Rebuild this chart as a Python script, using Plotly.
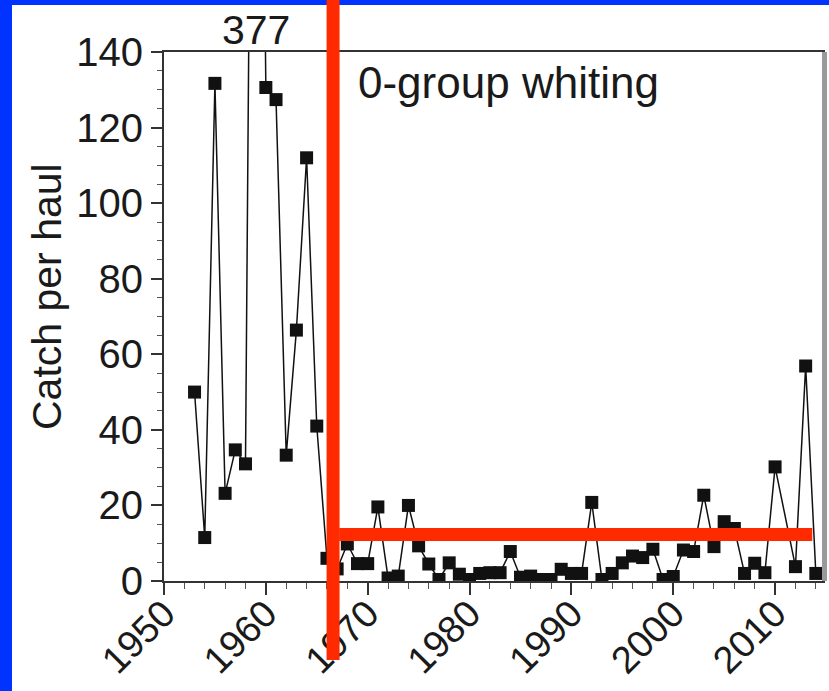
import plotly.graph_objects as go

# Survey years (no value recorded for 2011)
years = [1953, 1954, 1955, 1956, 1957, 1958, 1959, 1960, 1961, 1962,
         1963, 1964, 1965, 1966, 1967, 1968, 1969, 1970, 1971, 1972,
         1973, 1974, 1975, 1976, 1977, 1978, 1979, 1980, 1981, 1982,
         1983, 1984, 1985, 1986, 1987, 1988, 1989, 1990, 1991, 1992,
         1993, 1994, 1995, 1996, 1997, 1998, 1999, 2000, 2001, 2002,
         2003, 2004, 2005, 2006, 2007, 2008, 2009, 2010, 2012, 2013,
         2014]

# 0-group whiting, catch per haul
catch = [50.0, 11.5, 131.7, 23.2, 34.7, 31.0, 377.0, 130.6, 127.4, 33.3,
         66.4, 112.0, 41.0, 6.0, 3.2, 9.8, 4.6, 4.6, 19.6, 0.8,
         1.3, 20.0, 9.3, 4.5, 0.4, 4.8, 1.8, 0.4, 2.0, 2.2,
         2.2, 7.8, 1.0, 1.3, 0.4, 0.4, 3.1, 2.0, 2.0, 20.8,
         0.4, 2.0, 4.8, 6.6, 6.2, 8.4, 0.4, 1.2, 8.2, 7.8,
         22.7, 9.1, 15.7, 13.9, 2.0, 4.7, 2.2, 30.2, 3.8, 56.9,
         2.0]

x_ticks = [1950, 1960, 1970, 1980, 1990, 2000, 2010]
y_ticks = [0, 20, 40, 60, 80, 100, 120, 140]
x_range = [1950, 2014.9]
y_range = [0, 140]

# Regime marks: break year and the later average level
shift_year = 1966.6
post_level = 12.3
post_start = 1967.2
post_end = 2013.65

panel_label = "0-group whiting"
y_title = "Catch per haul"

# Page geometry (pixels)
FIG_W, FIG_H = 829, 691
M_L, M_R, M_T, M_B = 164, 4, 52, 110
PW = FIG_W - M_L - M_R
PH = FIG_H - M_T - M_B


def px_x(p):
    return (p - M_L) / PW


def px_y(p):
    return (M_T + PH - p) / PH


FONT = "Liberation Sans, Arial, Helvetica, sans-serif"
INK = "#1a1a1a"
RED = "#ff2a00"
BLUE = "#0033ff"

fig = go.Figure()
fig.add_trace(go.Scatter(
    x=years, y=catch, mode="lines+markers",
    line=dict(color="#111111", width=1.5),
    marker=dict(symbol="square", size=13, color="#111111"),
    showlegend=False, cliponaxis=True,
))

# Off-scale value written above the frame
peak_i = catch.index(max(catch))
fig.add_annotation(
    x=years[peak_i], y=px_y(30), xref="x", yref="paper",
    text=f"{catch[peak_i]:.0f}", showarrow=False,
    font=dict(family=FONT, size=41, color=INK),
    xanchor="center", yanchor="middle",
)

fig.add_annotation(
    x=px_x(356), y=px_y(82), xref="paper", yref="paper",
    text=panel_label, showarrow=False,
    font=dict(family=FONT, size=44, color=INK),
    xanchor="left", yanchor="middle",
)

fig.add_annotation(
    x=px_x(47), y=px_y(297), xref="paper", yref="paper",
    text=y_title, textangle=-90, showarrow=False,
    font=dict(family=FONT, size=41, color=INK),
    xanchor="center", yanchor="middle",
)

shapes = [
    # blue page border, left and top
    dict(type="rect", xref="paper", yref="paper",
         x0=px_x(0), x1=px_x(12), y0=px_y(FIG_H), y1=px_y(0),
         fillcolor=BLUE, line=dict(width=0), layer="above"),
    dict(type="rect", xref="paper", yref="paper",
         x0=px_x(0), x1=px_x(FIG_W), y0=px_y(5), y1=px_y(0),
         fillcolor=BLUE, line=dict(width=0), layer="above"),
    # grey right edge of the frame
    dict(type="rect", xref="paper", yref="paper",
         x0=px_x(822), x1=px_x(827), y0=0, y1=1,
         fillcolor="#9a9a9a", line=dict(width=0), layer="above"),
    # regime break
    dict(type="line", xref="x", yref="paper",
         x0=shift_year, x1=shift_year, y0=px_y(660), y1=px_y(0),
         line=dict(color=RED, width=13), layer="above"),
    # average level after the break
    dict(type="line", xref="x", yref="y",
         x0=post_start, x1=post_end, y0=post_level, y1=post_level,
         line=dict(color=RED, width=13), layer="above"),
]

fig.update_layout(
    width=FIG_W, height=FIG_H,
    margin=dict(l=M_L, r=M_R, t=M_T, b=M_B, pad=0, autoexpand=False),
    paper_bgcolor="white", plot_bgcolor="white",
    font=dict(family=FONT, size=41, color=INK),
    shapes=shapes,
    xaxis=dict(
        range=x_range, tickvals=x_ticks, ticktext=[str(t) for t in x_ticks],
        tickangle=-45, ticks="outside", ticklen=12, tickwidth=1.5,
        tickcolor="#333333", showline=True, linecolor="#333333",
        linewidth=2, mirror=True, showgrid=False, zeroline=False,
        automargin=False, ticklabelstandoff=-19,
        tickfont=dict(family=FONT, size=38, color=INK),
        minor=dict(dtick=2, ticks="outside", ticklen=6, tickwidth=1,
                   tickcolor="#555555", showgrid=False),
    ),
    yaxis=dict(
        range=y_range, tickvals=y_ticks, ticktext=[str(t) for t in y_ticks],
        ticks="outside", ticklen=11, tickwidth=1.5, tickcolor="#333333",
        showline=True, linecolor="#333333", linewidth=2,
        showgrid=False, zeroline=False, automargin=False,
        tickfont=dict(family=FONT, size=40, color=INK),
        minor=dict(dtick=5, ticks="outside", ticklen=5, tickwidth=1,
                   tickcolor="#555555", showgrid=False),
    ),
)

fig.write_html("out.html")
